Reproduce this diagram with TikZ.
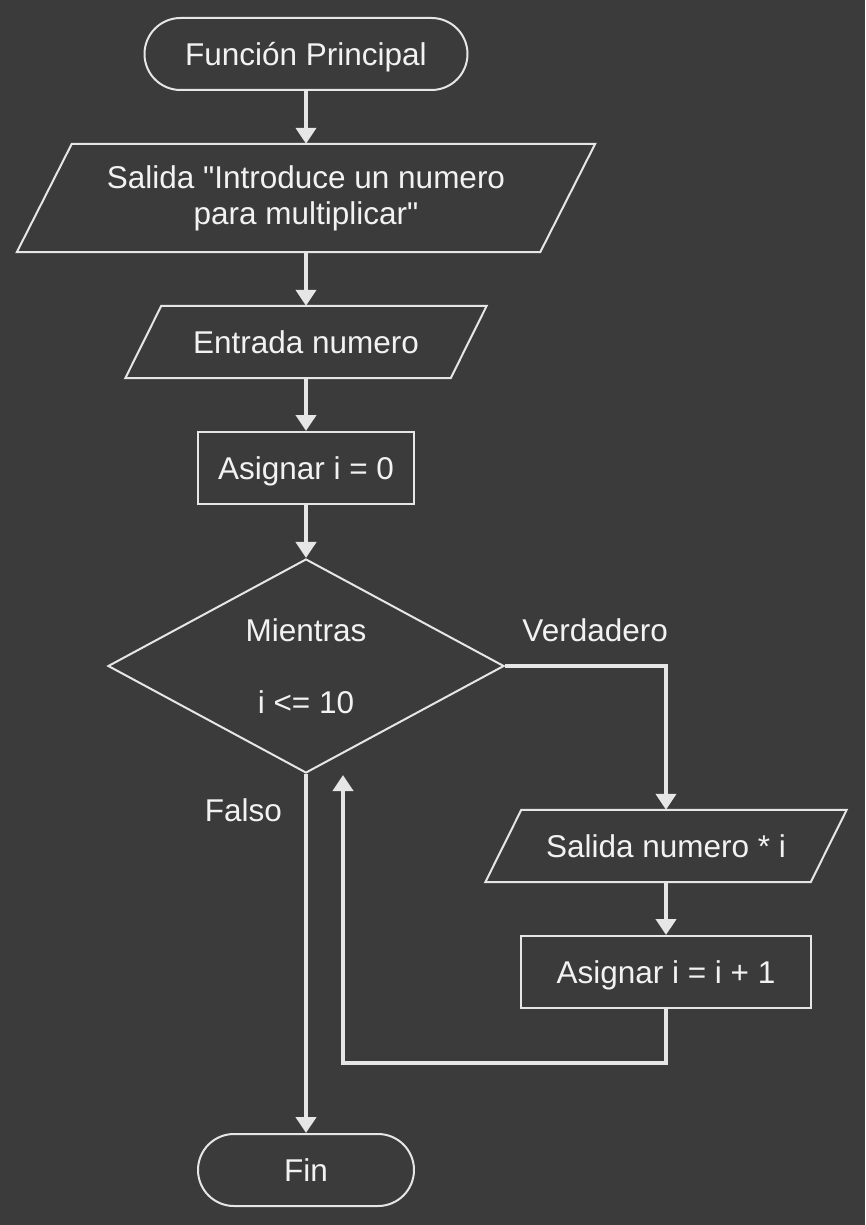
\documentclass[tikz,border=0pt]{standalone}
\usepackage{fontspec}
\setmainfont{Liberation Sans}
\usetikzlibrary{shapes.geometric, arrows.meta, positioning, calc}
\definecolor{bgcol}{HTML}{3B3B3B}
\definecolor{linecol}{HTML}{E6E6E6}
\definecolor{textcol}{HTML}{F2F2F2}
\tikzset{
	base/.style={text=textcol, font=\fontsize{31.5}{36}\selectfont, align=center, inner sep=0pt},
	terminal/.style={base, draw=linecol, line width=2pt, rounded corners=36pt, minimum height=72pt, text depth=0pt},
	process/.style={base, draw=linecol, line width=2pt, minimum height=72pt, text depth=0pt},
	iobox/.style={base, minimum height=#1},
	decision/.style={base, draw=linecol, line width=2pt, diamond, aspect=1.85, minimum width=396pt, minimum height=214pt},
	flow/.style={draw=linecol, line width=4pt, -{Triangle[width=20pt,length=16pt]}},
	lbl/.style={text=textcol, font=\fontsize{31.5}{36}\selectfont, inner sep=0pt},
}

\begin{document}
\begin{tikzpicture}[x=1pt, y=-1pt]
	\fill[bgcol] (0,0) rectangle (865,1225);
	\useasboundingbox (0,0) rectangle (865,1225);

	\node[terminal, minimum width=323pt] (inicio) at (306,54) {Función Principal};
	\node[iobox=108pt, minimum width=523pt] (salida) at (306,198) {Salida \textquotedbl Introduce un numero\\para multiplicar\textquotedbl};
	\node[iobox=72pt, minimum width=325pt] (entrada) at (306,342) {Entrada numero};
	\node[process, minimum width=216pt] (asig0) at (306,468) {Asignar i = 0};
	\node[decision] (cond) at (306,666) {Mientras\\[36pt]i <= 10};
	\node[iobox=72pt, minimum width=325pt] (prod) at (666,846) {Salida numero * i};
	\node[process, minimum width=290pt] (asig1) at (666,972) {Asignar i = i + 1};
	\node[terminal, minimum width=216pt] (fin) at (306,1170) {Fin};
	\coordinate (regreso) at (343,775);

	% parallelogram outlines
	\foreach \n/\s in {salida/27.5, entrada/18, prod/18}
		\draw[linecol, line width=2pt] ([xshift=-\s pt]\n.south west) -- ([xshift=-\s pt]\n.south east)
			-- ([xshift=\s pt]\n.north east) -- ([xshift=\s pt]\n.north west) -- cycle;

	\draw[flow] (inicio) -- (salida);
	\draw[flow] (salida) -- (entrada);
	\draw[flow] (entrada) -- (asig0);
	\draw[flow] (asig0) -- (cond);
	\draw[flow] (cond.east) -| node[lbl, pos=0.28, above=22pt] {Verdadero} (prod);
	\draw[flow] (prod) -- (asig1);
	\draw[flow] (asig1.south) -- ++(0,54) -| (regreso);
	\draw[flow] (cond.south) -- node[lbl, pos=0.1, left=22pt] {Falso} (fin);
\end{tikzpicture}
\end{document}
